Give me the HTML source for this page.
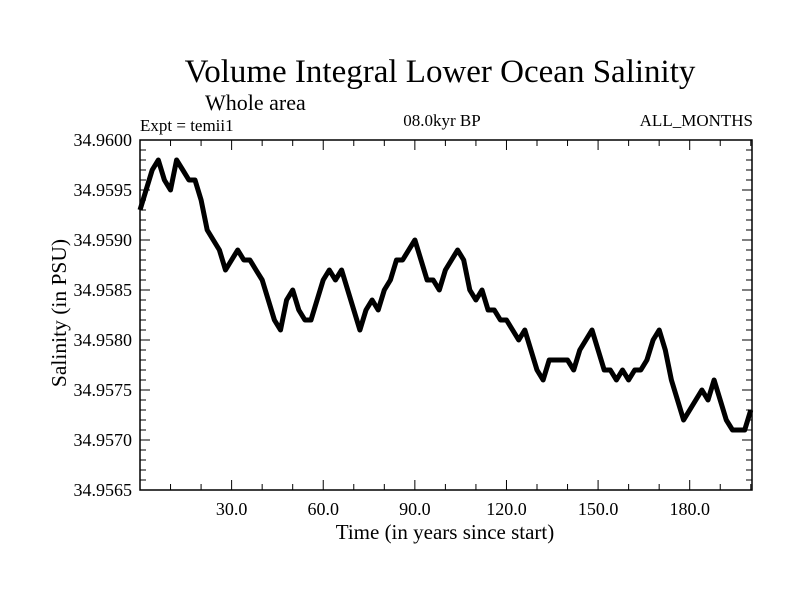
<!DOCTYPE html>
<html><head><meta charset="utf-8"><style>
html,body{margin:0;padding:0;background:#fff;}
svg{display:block;font-family:"Liberation Serif",serif;}
</style></head><body>
<svg id="chart" width="800" height="600" viewBox="0 0 800 600">
<text x="440" y="82" font-size="33" text-anchor="middle">Volume Integral Lower Ocean Salinity</text>
<text x="205" y="110" font-size="22">Whole area</text>
<text x="140" y="131" font-size="17">Expt = temii1</text>
<text x="442" y="126" font-size="17" text-anchor="middle">08.0kyr BP</text>
<text x="753" y="126" font-size="17" text-anchor="end">ALL_MONTHS</text>
<text x="445" y="539" font-size="21" text-anchor="middle">Time (in years since start)</text>
<text transform="translate(66,313) rotate(-90)" font-size="21.5" text-anchor="middle">Salinity (in PSU)</text>
<g id="axes"></g>
<path id="series" fill="none" stroke="#000" stroke-width="5" stroke-linejoin="round"/>
<rect x="140" y="140" width="612" height="350" fill="none" stroke="#000" stroke-width="1.5"/>
</svg>
<script>
const years = [0,2,4,6,8,10,12,14,16,18,20,22,24,26,28,30,32,34,36,38,40,42,44,46,48,50,52,54,56,58,60,62,64,66,68,70,72,74,76,78,80,82,84,86,88,90,92,94,96,98,100,102,104,106,108,110,112,114,116,118,120,122,124,126,128,130,132,134,136,138,140,142,144,146,148,150,152,154,156,158,160,162,164,166,168,170,172,174,176,178,180,182,184,186,188,190,192,194,196,198,200];
const salinity = [34.9593,34.9595,34.9597,34.9598,34.9596,34.9595,34.9598,34.9597,34.9596,34.9596,34.9594,34.9591,34.9590,34.9589,34.9587,34.9588,34.9589,34.9588,34.9588,34.9587,34.9586,34.9584,34.9582,34.9581,34.9584,34.9585,34.9583,34.9582,34.9582,34.9584,34.9586,34.9587,34.9586,34.9587,34.9585,34.9583,34.9581,34.9583,34.9584,34.9583,34.9585,34.9586,34.9588,34.9588,34.9589,34.9590,34.9588,34.9586,34.9586,34.9585,34.9587,34.9588,34.9589,34.9588,34.9585,34.9584,34.9585,34.9583,34.9583,34.9582,34.9582,34.9581,34.9580,34.9581,34.9579,34.9577,34.9576,34.9578,34.9578,34.9578,34.9578,34.9577,34.9579,34.9580,34.9581,34.9579,34.9577,34.9577,34.9576,34.9577,34.9576,34.9577,34.9577,34.9578,34.9580,34.9581,34.9579,34.9576,34.9574,34.9572,34.9573,34.9574,34.9575,34.9574,34.9576,34.9574,34.9572,34.9571,34.9571,34.9571,34.9573];
const yTickLabels = ["34.9565","34.9570","34.9575","34.9580","34.9585","34.9590","34.9595","34.9600"];
const xTickLabels = ["30.0","60.0","90.0","120.0","150.0","180.0"];

const X0=140,X1=752,Y0=490,Y1=140,XMIN=0,XMAX=200.4,YMIN=34.9565,YMAX=34.9600;
function sx(v){return X0+(v-XMIN)/(XMAX-XMIN)*(X1-X0);}
function sy(v){return Y0-(v-YMIN)/(YMAX-YMIN)*(Y0-Y1);}
const NS="http://www.w3.org/2000/svg";
const axes=document.getElementById('axes');
function mk(tag,attrs){const e=document.createElementNS(NS,tag);for(const k in attrs)e.setAttribute(k,attrs[k]);axes.appendChild(e);return e;}
for(let i=0;i<=35;i++){
  const v=YMIN+i*0.0001,y=sy(v),major=i%5===0,len=major?10:6;
  let t=mk('line',{x1:X0,x2:X0+len,y1:y,y2:y,stroke:'#000','stroke-width':1});
  
  
  t=mk('line',{x1:X1,x2:X1-len,y1:y,y2:y,stroke:'#000','stroke-width':1});
  
  
}
yTickLabels.forEach(function(s){
  const el=mk('text',{x:X0-8,y:sy(parseFloat(s))+6,'font-size':18,'text-anchor':'end'});
  el.textContent=s;
  
  
});
for(let v=10;v<=200;v+=10){
  const x=sx(v),major=v%30===0,len=major?10:6;
  let t=mk('line',{x1:x,x2:x,y1:Y0,y2:Y0-len,stroke:'#000','stroke-width':1});
  
  
  t=mk('line',{x1:x,x2:x,y1:Y1,y2:Y1+len,stroke:'#000','stroke-width':1});
  
  
}
xTickLabels.forEach(function(s){
  const el=mk('text',{x:sx(parseFloat(s)),y:Y0+25,'font-size':18,'text-anchor':'middle'});
  el.textContent=s;
  
  
});
let d='';
years.forEach(function(yr,i){d+=(i?'L':'M')+sx(yr).toFixed(1)+','+sy(salinity[i]).toFixed(1);});
document.getElementById('series').setAttribute('d',d);
</script>
</body></html>
